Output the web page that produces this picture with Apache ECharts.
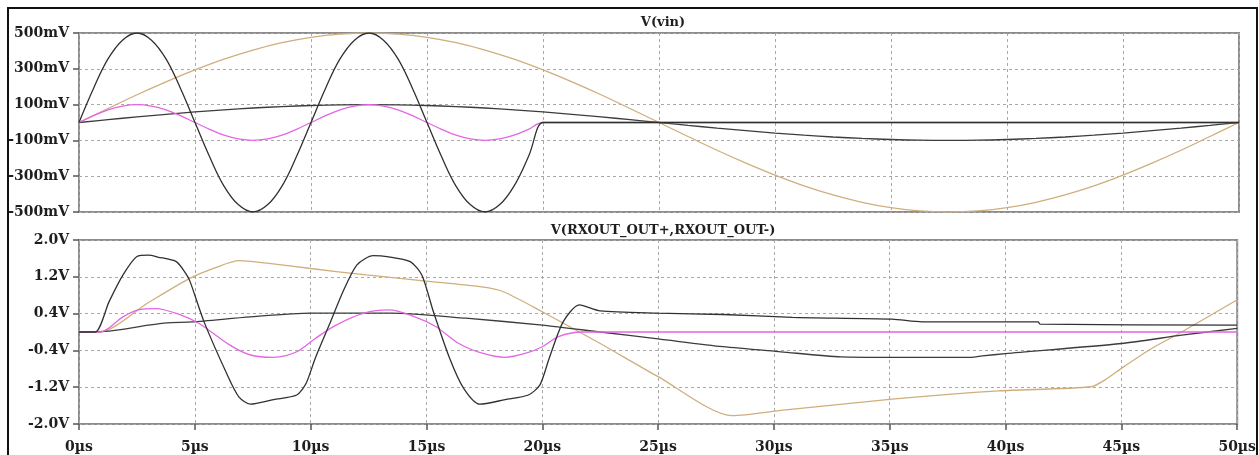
<!DOCTYPE html>
<html>
<head>
<meta charset="utf-8">
<script src="https://cdn.jsdelivr.net/npm/echarts@6/dist/echarts.min.js"></script>
<style>
  html, body { margin: 0; padding: 0; background: #ffffff; }
  #chart { width: 1259px; height: 455px; }
</style>
</head>
<body>
<div id="chart"></div>
<script>
// ---- Upper pane: V(vin), values in mV ----
const tFast = [0, 0.625, 1.25, 1.875, 2.5, 3.125, 3.75, 4.375, 5, 5.625, 6.25, 6.875, 7.5, 8.125, 8.75, 9.375,
  10, 10.625, 11.25, 11.875, 12.5, 13.125, 13.75, 14.375, 15, 15.625, 16.25, 16.875, 17.5, 18.125, 18.75, 19.375, 20, 20.3, 50];
const vinFastLarge = [0, 190, 355, 460, 500, 460, 355, 190, 0, -190, -355, -460, -500, -460, -355, -190,
  0, 190, 355, 460, 500, 460, 355, 190, 0, -190, -355, -460, -500, -460, -355, -190, 0, 0, 0];
const vinFastSmall = [0, 38, 71, 92, 100, 92, 71, 38, 0, -38, -71, -92, -100, -92, -71, -38,
  0, 38, 71, 92, 100, 92, 71, 38, 0, -38, -71, -92, -100, -92, -71, -38, 0, 0, 0];

const tSlow = [0, 1.25, 2.5, 3.75, 5, 6.25, 7.5, 8.75, 10, 11.25, 12.5, 13.75, 15, 16.25, 17.5, 18.75, 20,
  21.25, 22.5, 23.75, 25, 26.25, 27.5, 28.75, 30, 31.25, 32.5, 33.75, 35, 36.25, 37.5, 38.75, 40,
  41.25, 42.5, 43.75, 45, 46.25, 47.5, 48.75, 50];
const vinSlowLarge = [0, 78, 155, 227, 294, 354, 405, 446, 476, 494, 500, 494, 476, 446, 405, 354, 294,
  227, 155, 78, 0, -78, -155, -227, -294, -354, -405, -446, -476, -494, -500, -494, -476,
  -446, -405, -354, -294, -227, -155, -78, 0];
const vinSlowSmall = [0, 16, 31, 45, 59, 71, 81, 89, 95, 99, 100, 99, 95, 89, 81, 71, 59,
  45, 31, 16, 0, -16, -31, -45, -59, -71, -81, -89, -95, -99, -100, -99, -95,
  -89, -81, -71, -59, -45, -31, -16, 0];

// ---- Lower pane: V(RXOUT_OUT+,RXOUT_OUT-), values in V ----
const tOutFastLarge = [0, 0.7, 1.3, 1.9, 2.5, 3.0, 3.4, 4.2, 4.6, 4.8, 5.4, 6.4, 6.9, 7.4, 8.4, 9.4, 9.8,
  10.2, 10.8, 11.4, 12.0, 12.7, 13.3, 14.3, 14.8, 15.3, 16.0, 16.6, 17.3, 18.4, 19.4, 19.9, 20.3,
  20.9, 21.6, 22.5, 25.0, 27.8, 30.8, 35.1, 36.4, 41.4, 41.5, 50];
const outFastLarge = [0, 0, 0.66, 1.24, 1.64, 1.67, 1.63, 1.53, 1.28, 1.09, 0.22, -0.93, -1.41, -1.57, -1.47, -1.37, -1.12,
  -0.57, 0.15, 0.88, 1.46, 1.66, 1.64, 1.53, 1.24, 0.44, -0.57, -1.22, -1.57, -1.47, -1.37, -1.15, -0.57,
  0.22, 0.59, 0.46, 0.41, 0.38, 0.32, 0.28, 0.22, 0.22, 0.17, 0.15];

const tOutFastSmall = [0, 0.9, 1.9, 2.55, 3.3, 4.3, 5.2, 6.5, 7.4, 8.4, 9.4, 10.2, 11.1, 12.3, 13.4, 14.5,
  15.4, 16.4, 17.4, 18.4, 19.3, 20.0, 20.7, 21.7, 50];
const outFastSmall = [0, 0, 0.33, 0.48, 0.51, 0.39, 0.18, -0.28, -0.5, -0.55, -0.43, -0.14, 0.15, 0.41, 0.48, 0.33,
  0.12, -0.25, -0.46, -0.55, -0.46, -0.32, -0.1, 0, 0];

const tOutSlowLarge = [0, 0.9, 3.0, 4.8, 5.9, 6.9, 8.2, 10.0, 12.4, 15.3, 17.4, 18.3, 20.0, 22.5, 25.0, 28.2,
  30.4, 35.1, 39.7, 43.7, 44.3, 45.0, 46.2, 47.6, 50];
const outSlowLarge = [0, 0, 0.64, 1.17, 1.40, 1.55, 1.49, 1.38, 1.24, 1.09, 0.98, 0.88, 0.44, -0.25, -0.97, -1.82,
  -1.70, -1.46, -1.28, -1.19, -1.04, -0.79, -0.39, 0, 0.7];

const tOutSlowSmall = [0, 1.3, 3.0, 3.8, 4.9, 7.4, 10.0, 13.5, 16.7, 20.0, 22.5, 25.0, 27.8, 30.3, 32.9, 35.1,
  38.5, 39.0, 40.0, 45.0, 47.6, 50];
const outSlowSmall = [0, 0.02, 0.15, 0.2, 0.22, 0.33, 0.41, 0.41, 0.3, 0.15, 0, -0.15, -0.32, -0.43, -0.54, -0.55,
  -0.55, -0.52, -0.47, -0.25, -0.07, 0.08];

const xTicks = { min: 0, max: 50, interval: 5 };
const paneTitles = ['V(vin)', 'V(RXOUT_OUT+,RXOUT_OUT-)'];

const COLORS = { large: '#303030', small: '#e466e4', slowLarge: '#cfae7c', slowSmall: '#3c3c3c' };
const FONT = '"DejaVu Serif", "Liberation Serif", serif';

function pairs(t, v) { return t.map((x, i) => [x, v[i]]); }
function trace(name, t, v, color, idx, z, smooth) {
  return {
    name, type: 'line', xAxisIndex: idx, yAxisIndex: idx,
    data: pairs(t, v), showSymbol: false, symbol: 'none', z: z, smooth: smooth,
    lineStyle: { color: color, width: 1.3 }, animation: false
  };
}

const gridLine = { show: true, lineStyle: { color: '#a9a9a9', type: [3, 3], width: 1 } };
const axisLabel = { fontFamily: FONT, fontWeight: 'bold', fontSize: 14, color: '#1e1e1e' };
const tick = { show: true, length: 6, lineStyle: { color: '#555', width: 1.5 } };

const chart = echarts.init(document.getElementById('chart'));
chart.setOption({
  backgroundColor: '#ffffff',
  animation: false,
  title: [
    { text: paneTitles[0], left: 658, top: 11, textAlign: 'center',
      textStyle: { fontFamily: FONT, fontWeight: 'bold', fontSize: 13, color: '#1e1e1e' } },
    { text: paneTitles[1], left: 658, top: 219, textAlign: 'center',
      textStyle: { fontFamily: FONT, fontWeight: 'bold', fontSize: 13, color: '#1e1e1e' } }
  ],
  grid: [
    { left: 79, top: 33, width: 1160, height: 179, show: true, borderColor: '#8c8c8c', borderWidth: 2, backgroundColor: 'transparent' },
    { left: 79, top: 240, width: 1160, height: 184, show: true, borderColor: '#8c8c8c', borderWidth: 2, backgroundColor: 'transparent' }
  ],
  xAxis: [
    { type: 'value', gridIndex: 0, min: xTicks.min, max: xTicks.max, interval: xTicks.interval, position: 'bottom',
      axisLine: { show: false, onZero: false }, axisTick: { show: false }, axisLabel: { show: false }, splitLine: gridLine },
    { type: 'value', gridIndex: 1, min: xTicks.min, max: xTicks.max, interval: xTicks.interval, position: 'bottom',
      axisLine: { show: false, onZero: false },
      axisTick: tick,
      axisLabel: Object.assign({ margin: 16, formatter: v => v + 'µs' }, axisLabel),
      splitLine: gridLine }
  ],
  yAxis: [
    { type: 'value', gridIndex: 0, min: -500, max: 500, interval: 200,
      axisLine: { show: false, onZero: false },
      axisTick: tick,
      axisLabel: Object.assign({ margin: 10, formatter: v => v + 'mV' }, axisLabel),
      splitLine: gridLine },
    { type: 'value', gridIndex: 1, min: -2, max: 2, interval: 0.8,
      axisLine: { show: false, onZero: false },
      axisTick: tick,
      axisLabel: Object.assign({ margin: 10, formatter: v => v.toFixed(1) + 'V' }, axisLabel),
      splitLine: gridLine }
  ],
  graphic: [
    { type: 'rect', silent: true, z: 100,
      shape: { x: 8, y: 8, width: 1249, height: 470 },
      style: { fill: 'none', stroke: '#111111', lineWidth: 2 } }
  ],
  series: [
    trace('slowLarge', tSlow, vinSlowLarge, COLORS.slowLarge, 0, 2, 0.4),
    trace('slowSmall', tSlow, vinSlowSmall, COLORS.slowSmall, 0, 3, 0.4),
    trace('fastSmall', tFast, vinFastSmall, COLORS.small, 0, 4, 0.4),
    trace('fastLarge', tFast, vinFastLarge, COLORS.large, 0, 5, 0.4),
    trace('outSlowLarge', tOutSlowLarge, outSlowLarge, COLORS.slowLarge, 1, 2, 0.25),
    trace('outSlowSmall', tOutSlowSmall, outSlowSmall, COLORS.slowSmall, 1, 3, 0.25),
    trace('outFastSmall', tOutFastSmall, outFastSmall, COLORS.small, 1, 4, 0.3),
    trace('outFastLarge', tOutFastLarge, outFastLarge, COLORS.large, 1, 5, 0.25)
  ]
});
</script>
</body>
</html>
